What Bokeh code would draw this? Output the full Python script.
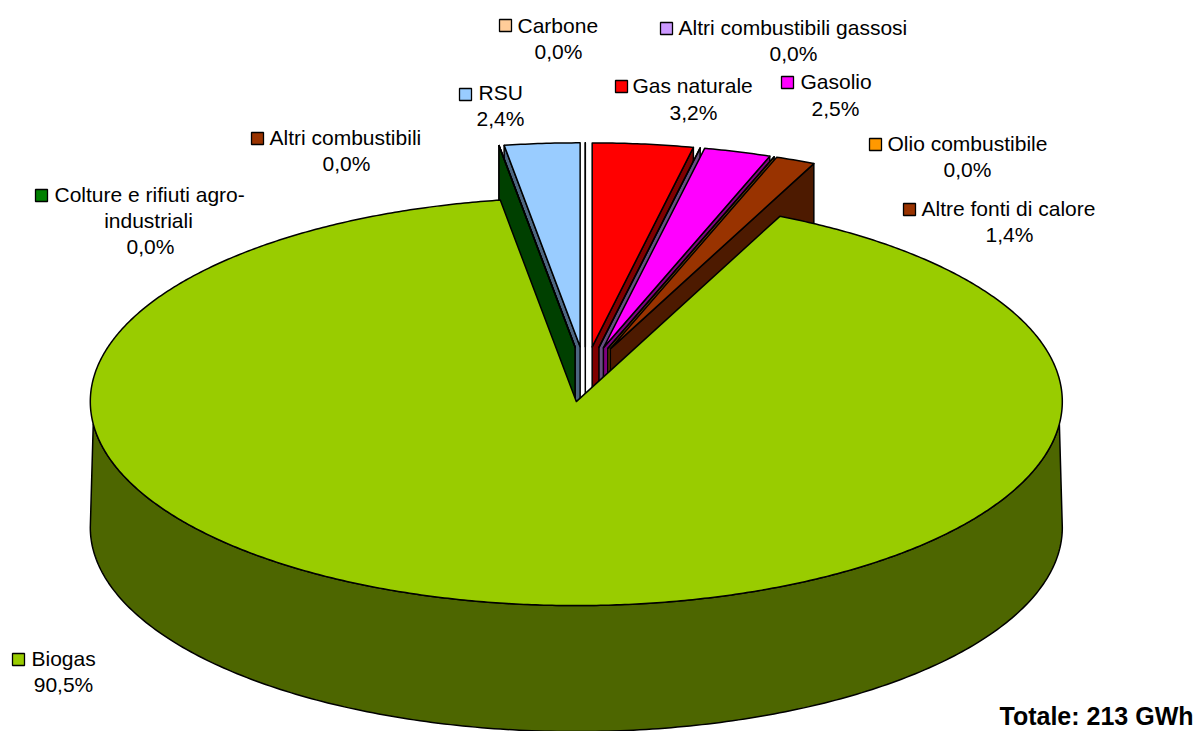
import math
from bokeh.plotting import figure
from bokeh.models import Range1d
from bokeh.core.properties import value
from bokeh.embed import file_html
from bokeh.resources import INLINE

# ---- data (clockwise from 12 o'clock) ----
categories = ["Gas naturale", "Altri combustibili gassosi", "Gasolio", "Olio combustibile",
              "Altre fonti di calore", "Biogas", "Colture e rifiuti agro-industriali",
              "Altri combustibili", "RSU", "Carbone"]
shares = [3.2, 0.0, 2.5, 0.0, 1.4, 90.5, 0.0, 0.0, 2.4, 0.0]
share_labels = ["3,2%", "0,0%", "2,5%", "0,0%", "1,4%", "90,5%", "0,0%", "0,0%", "2,4%", "0,0%"]
top_colors = ["#FF0000", "#CC99FF", "#FF00FF", "#FF9900", "#993300",
              "#99CC00", "#008000", "#993300", "#99CCFF", "#FFCC99"]
wall_colors = ["#800000", "#664D80", "#800080", "#804D00", "#4D1A00",
               "#4D6600", "#004000", "#4D1A00", "#4D6680", "#806633"]
total_label = "Totale: 213 GWh"

# ---- layout ----
W, H = 1196, 731
CX, CY = 584.8, 373.8      # centre of the un-exploded pie
RX, RY = 486.0, 204.0      # ellipse radii
DEPTH = 126.0
EXPLODE = 0.135
WALL_INSET = 0.11          # the rim wall starts a little below the ellipse's widest point
FONT = "Liberation Sans"
FS = "21px"
# small shift (degrees) of each slice's closing edge: the original's 3D view
# distorts angles slightly compared with a flat elliptical projection
PERSPECTIVE_DEG = [0.5, 0.5, -0.5, -0.5, -0.8, -0.36, -0.36, -0.36, 0.0, 0.0]

# key x, key y, name x, name y, percent x, percent y
label_layout = {
    "Carbone": (505, 25, 517, 25, 558, 51),
    "Altri combustibili gassosi": (666, 28, 678, 27, 793, 53),
    "RSU": (465, 94, 478, 92, 500, 118),
    "Gas naturale": (621, 86, 632, 85, 693, 112),
    "Gasolio": (787, 82, 800, 81, 835, 108),
    "Olio combustibile": (875, 144, 887, 143, 967, 169),
    "Altre fonti di calore": (909, 209, 921, 208, 1009, 234),
    "Altri combustibili": (257, 138, 269, 137, 346, 163),
    "Colture e rifiuti agro-industriali": (41, 195, 54, 194, 150, 246),
    "Biogas": (18, 659, 31, 658, 63, 684),
}

p = figure(width=W, height=H, output_backend="svg", toolbar_location=None,
           x_range=Range1d(0, W), y_range=Range1d(H, 0),
           min_border=0, outline_line_color=None)
p.axis.visible = False
p.grid.visible = False
p.background_fill_color = "white"


def on_ellipse(ox, oy, a):
    return ox + RX * math.sin(a), oy - RY * math.cos(a)


# slice geometry derived from the shares
total = sum(shares)
slices = []
acc = 0.0
a0 = 0.0
for cat, s, top, wall, nudge in zip(categories, shares, top_colors, wall_colors, PERSPECTIVE_DEG):
    acc += s
    a1 = 2 * math.pi * acc / total + math.radians(nudge)
    mid = (a0 + a1) / 2
    ox = CX + EXPLODE * RX * math.sin(mid)
    oy = CY - EXPLODE * RY * math.cos(mid)
    slices.append(dict(cat=cat, a0=a0, a1=a1, mid=mid, ox=ox, oy=oy, top=top, wall=wall, s=s))
    a0 = a1


def shape(xs, ys, fill):
    p.patch(xs, ys, fill_color=fill, line_color="black", line_width=1.5, line_join="round")


def side_wall(sl, a):
    rx, ry = on_ellipse(sl["ox"], sl["oy"], a)
    shape([sl["ox"], rx, rx, sl["ox"]],
          [sl["oy"], ry, ry + DEPTH, sl["oy"] + DEPTH], sl["wall"])


def top_face(sl):
    n = max(2, int((sl["a1"] - sl["a0"]) * 120))
    xs, ys = [sl["ox"]], [sl["oy"]]
    for i in range(n + 1):
        a = sl["a0"] + (sl["a1"] - sl["a0"]) * i / n
        x, y = on_ellipse(sl["ox"], sl["oy"], a)
        xs.append(x)
        ys.append(y)
    shape(xs, ys, sl["top"])


big = max(slices, key=lambda s: s["s"])
right = [s for s in slices if s is not big and s["mid"] < math.pi and s["cat"] != "Carbone"]
left = [s for s in slices if s is not big and s["mid"] >= math.pi]

# side walls, back to front
for sl in reversed(sorted(left, key=lambda s: s["mid"])):
    side_wall(sl, sl["a0"])
for sl in right:
    side_wall(sl, sl["a1"])

# top faces of the exploded slices
for sl in slices:
    if sl is not big:
        top_face(sl)

# rim wall of the largest slice (only the front half)
steps = 240
t0, t1 = math.pi / 2 + WALL_INSET, 3 * math.pi / 2 - WALL_INSET
b0, b1 = math.pi / 2, 3 * math.pi / 2
upper = [on_ellipse(big["ox"], big["oy"], t0 + (t1 - t0) * i / steps) for i in range(steps + 1)]
lower = [on_ellipse(big["ox"], big["oy"] + DEPTH, b1 - (b1 - b0) * i / steps) for i in range(steps + 1)]
shape([q[0] for q in upper + lower], [q[1] for q in upper + lower], big["wall"])
top_face(big)

# labels
for cat, lab, col in zip(categories, share_labels, top_colors):
    kx, ky, nx, ny, px, py = label_layout[cat]
    p.scatter([kx], [ky], marker="square", size=12, fill_color=col,
              line_color="black", line_width=1.3)
    lines = [cat]
    if cat.startswith("Colture"):
        lines = ["Colture e rifiuti agro-", "industriali"]
    p.text([nx], [ny], text=[lines[0]], text_font=value(FONT), text_font_size=FS,
           text_color="black", text_align="left", text_baseline="middle")
    if len(lines) > 1:
        p.text([px - 2], [ny + 26], text=[lines[1]], text_font=value(FONT), text_font_size=FS,
               text_color="black", text_align="center", text_baseline="middle")
    p.text([px], [py], text=[lab], text_font=value(FONT), text_font_size=FS,
           text_color="black", text_align="center", text_baseline="middle")

p.text([1193], [715], text=[total_label], text_font=value(FONT), text_font_size="25px",
       text_font_style="bold", text_color="black", text_align="right", text_baseline="middle")

open("out.html", "w").write(file_html(p, INLINE))
